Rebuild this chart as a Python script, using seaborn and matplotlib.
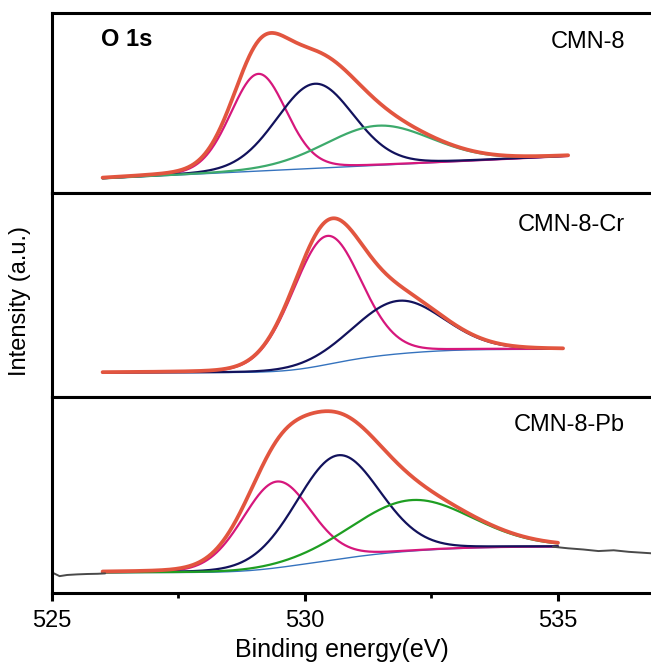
import numpy as np
import matplotlib
matplotlib.use("Agg")
import matplotlib.pyplot as plt
from matplotlib.ticker import MultipleLocator
import seaborn as sns

sns.set_theme(style="white")
plt.rcParams["font.family"] = ["Liberation Sans", "DejaVu Sans"]
plt.rcParams["text.color"] = "black"
plt.rcParams["axes.labelcolor"] = "black"
plt.rcParams["xtick.color"] = "black"

# ---- fitted O 1s components (binding energy eV, height, FWHM eV) ----
samples = ["CMN-8", "CMN-8-Cr", "CMN-8-Pb"]

centers_cmn8 = [529.08, 530.20, 531.45]
heights_cmn8 = [0.54, 0.47, 0.22]
fwhm_cmn8 = [1.30, 1.80, 2.50]
bg_cmn8 = [0.080, 0.205]          # background level at low / high BE end
range_cmn8 = [526.0, 535.2]

centers_cr = [530.43, 531.85]
heights_cr = [0.63, 0.26]
fwhm_cr = [1.60, 2.10]
bg_cr = [0.119, 0.234]
range_cr = [526.0, 535.1]

centers_pb = [529.44, 530.65, 532.10]
heights_pb = [0.44, 0.53, 0.26]
fwhm_pb = [1.60, 1.95, 2.80]
bg_pb = [0.104, 0.236]
range_pb = [526.0, 535.0]

# raw spectrum of CMN-8-Pb outside the fitted window
raw_pb_low_e = [525.00, 525.15, 525.30, 525.50, 525.70, 525.90, 526.05]
raw_pb_low_i = [0.105, 0.086, 0.092, 0.095, 0.097, 0.098, 0.100]
raw_pb_high_e = [534.90, 535.20, 535.50, 535.80, 536.10, 536.40, 536.70, 537.00]
raw_pb_high_i = [0.236, 0.228, 0.222, 0.214, 0.218, 0.210, 0.205, 0.200]

GL_MIX = 0.1

PINK = "#D6177C"
NAVY = "#12125C"
GREEN_1 = "#3DAA6C"
GREEN_2 = "#1E9E22"
BLUE = "#3573BE"
RED = "#E2553F"
GRAY = "#4A4A4A"


def gl_peak(e, c, h, w):
    """Gaussian-Lorentzian (pseudo-Voigt) line shape."""
    u = (e - c) / w
    return h * ((1 - GL_MIX) * np.exp(-4 * np.log(2) * u ** 2)
                + GL_MIX / (1 + 4 * u ** 2))


def fit_curves(centers, heights, fwhm, bg, e_range, shirley=True):
    e = np.linspace(e_range[0], e_range[1], 600)
    peaks = [gl_peak(e, c, h, w) for c, h, w in zip(centers, heights, fwhm)]
    total = np.sum(peaks, axis=0)
    if shirley:
        area = np.concatenate([[0], np.cumsum((total[1:] + total[:-1]) / 2 * np.diff(e))])
        base = bg[0] + (bg[1] - bg[0]) * area / area[-1]
    else:
        base = bg[0] + (bg[1] - bg[0]) * (e - e[0]) / (e[-1] - e[0])
    return e, base, [base + p for p in peaks], base + total


fig = plt.figure(figsize=(6.51, 6.68), dpi=100)
W, H = 651, 668
left_px, x_lo, x_hi, px_per_ev = 52, 525, 537, 50.6
width_px = (x_hi - x_lo) * px_per_ev
panel_px = [(13, 193), (193, 397), (397, 593)]
axes = []
for top, bot in panel_px:
    ax = fig.add_axes([left_px / W, (H - bot) / H, width_px / W, (bot - top) / H])
    axes.append(ax)

panels = [
    (centers_cmn8, heights_cmn8, fwhm_cmn8, bg_cmn8, range_cmn8, [PINK, NAVY, GREEN_1], False),
    (centers_cr, heights_cr, fwhm_cr, bg_cr, range_cr, [PINK, NAVY], True),
    (centers_pb, heights_pb, fwhm_pb, bg_pb, range_pb, [PINK, NAVY, GREEN_2], True),
]

for ax, (cen, hei, fw, bg, rng, cols, shir) in zip(axes, panels):
    e, base, comps, env = fit_curves(cen, hei, fw, bg, rng, shirley=shir)
    sns.lineplot(x=e, y=base, ax=ax, color=BLUE, linewidth=1.0, sort=False)
    for comp, col in zip(comps, cols):
        sns.lineplot(x=e, y=comp, ax=ax, color=col, linewidth=1.6, sort=False)
    sns.lineplot(x=e, y=env, ax=ax, color=RED, linewidth=2.7, sort=False)

sns.lineplot(x=raw_pb_low_e, y=raw_pb_low_i, ax=axes[2], color=GRAY, linewidth=1.4, sort=False)
sns.lineplot(x=raw_pb_high_e, y=raw_pb_high_i, ax=axes[2], color=GRAY, linewidth=1.4, sort=False)

for i, ax in enumerate(axes):
    ax.set_xlim(x_lo, x_hi)
    ax.set_ylim(0, 1)
    ax.set_yticks([])
    ax.set_xlabel("")
    ax.set_ylabel("")
    for sp in ax.spines.values():
        sp.set_linewidth(2.2)
        sp.set_color("black")
    ax.spines["right"].set_visible(False)
    if i < 2:
        ax.set_xticks([])
    else:
        ax.xaxis.set_major_locator(MultipleLocator(5))
        ax.xaxis.set_minor_locator(MultipleLocator(2.5))
        ax.tick_params(axis="x", which="major", direction="out", length=6,
                       width=2.2, labelsize=17, pad=6, bottom=True,
                       colors="black", labelcolor="black")
        ax.tick_params(axis="x", which="minor", direction="out", length=3.5,
                       width=2.0, bottom=True, colors="black")

axes[0].text(0.081, 0.85, "O 1s", transform=axes[0].transAxes, fontsize=17,
             fontweight="bold", ha="left", va="center", color="black")
label_y = [0.84, 0.843, 0.857]
for ax, name, y in zip(axes, samples, label_y):
    ax.text(0.944, y, name, transform=ax.transAxes, fontsize=17,
            ha="right", va="center", color="black")

fig.text(20 / W, 0.55, "Intensity (a.u.)", rotation=90, fontsize=17,
         ha="center", va="center", color="black")
fig.text(342 / W, 0.027, "Binding energy(eV)", fontsize=18, ha="center",
         va="center", color="black")

fig.savefig("out.png", dpi=100)
